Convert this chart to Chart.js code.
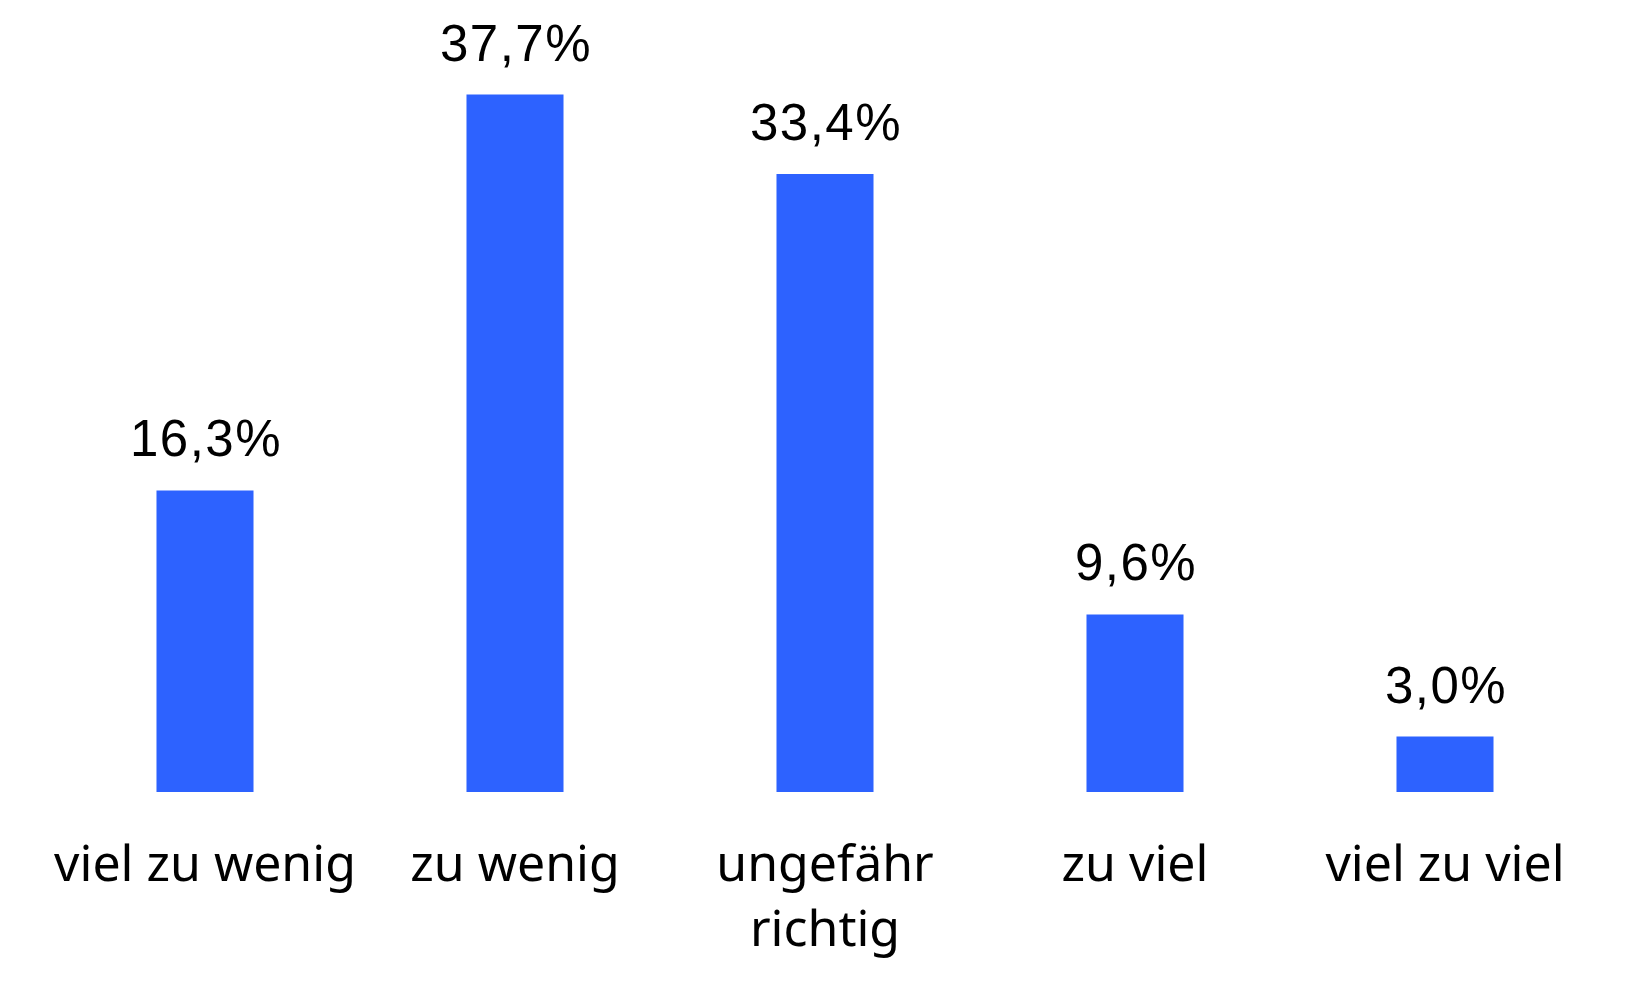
<!DOCTYPE html>
<html>
<head>
  <script src="https://cdn.jsdelivr.net/npm/chart.js"></script>
  <style>
    html, body { margin: 0; padding: 0; background: #ffffff; }
    #wrap { width: 1650px; height: 990px; }
  </style>
</head>
<body>
  <div id="wrap"><canvas id="myChart"></canvas></div>

  <script>
    // Kategorien (Achsenbeschriftungen, mehrzeilig als Array)
    const categories = [
      'viel zu wenig',
      'zu wenig',
      ['ungefähr', 'richtig'],
      'zu viel',
      'viel zu viel'
    ];

    // Anteile in Prozent
    const shares = [16.3, 37.7, 33.4, 9.6, 3.0];

    // Skala der y-Achse
    const yMin = 0;
    const yMax = 40;
    const yStep = 5;

    // Werte über den Balken, deutsches Format mit Komma
    const valueLabels = {
      id: 'valueLabels',
      afterDatasetsDraw(chart) {
        const ctx = chart.ctx;
        const meta = chart.getDatasetMeta(0);
        ctx.save();
        ctx.font = '51px "Liberation Sans", Arial, sans-serif';
        ctx.letterSpacing = '1.5px';
        ctx.fillStyle = '#000000';
        ctx.textAlign = 'center';
        ctx.textBaseline = 'alphabetic';
        meta.data.forEach((bar, i) => {
          const text = shares[i].toFixed(1).replace('.', ',') + '%';
          ctx.fillText(text, bar.x + 1, bar.y - 34);
        });
        ctx.restore();
      }
    };

    const ctx = document.getElementById('myChart').getContext('2d');
    new Chart(ctx, {
      type: 'bar',
      data: {
        labels: categories,
        datasets: [{
          data: shares,
          backgroundColor: '#2d62ff',
          borderWidth: 0,
          categoryPercentage: 1.0,
          barPercentage: 0.313
        }]
      },
      options: {
        responsive: true,
        maintainAspectRatio: false,
        animation: false,
        layout: {
          padding: { left: 50, right: 50, top: 52, bottom: 0 }
        },
        plugins: {
          legend: { display: false },
          tooltip: { enabled: false }
        },
        scales: {
          x: {
            grid: { display: false, drawTicks: false },
            border: { display: false },
            afterFit(scale) { scale.height = 198; },
            ticks: {
              color: '#000000',
              padding: 42,
              maxRotation: 0,
              autoSkip: false,
              font: { family: '"Noto Sans", sans-serif', size: 50, lineHeight: 1.3 }
            }
          },
          y: {
            display: false,
            min: yMin,
            max: yMax,
            ticks: { stepSize: yStep }
          }
        }
      },
      plugins: [valueLabels]
    });
  </script>
</body>
</html>
